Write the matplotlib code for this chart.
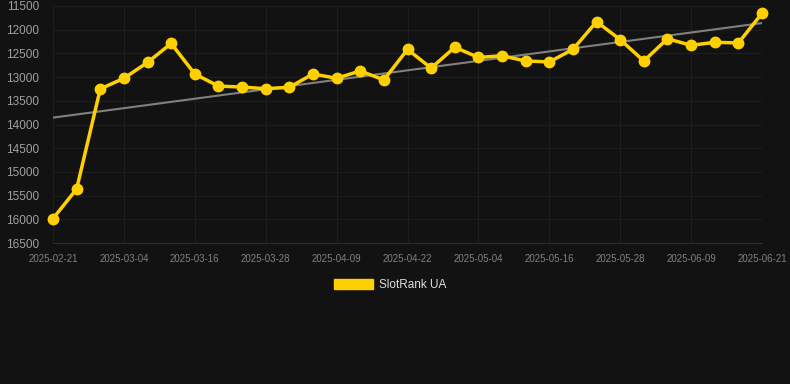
import matplotlib
matplotlib.use("Agg")
from matplotlib import pyplot as plt
from matplotlib.patches import Patch

# dates for every point (only every third one is labelled on the axis)
dates = ["2025-02-21", "2025-02-25", "2025-03-01", "2025-03-04", "2025-03-08",
         "2025-03-12", "2025-03-16", "2025-03-20", "2025-03-24", "2025-03-28",
         "2025-04-01", "2025-04-05", "2025-04-09", "2025-04-13", "2025-04-17",
         "2025-04-22", "2025-04-26", "2025-04-30", "2025-05-04", "2025-05-08",
         "2025-05-12", "2025-05-16", "2025-05-20", "2025-05-24", "2025-05-28",
         "2025-06-01", "2025-06-05", "2025-06-09", "2025-06-13", "2025-06-17",
         "2025-06-21"]
rank = [15985, 15360, 13250, 13025, 12690, 12290, 12935, 13190, 13210, 13245,
        13215, 12935, 13025, 12870, 13060, 12415, 12810, 12370, 12585, 12550,
        12660, 12680, 12415, 11830, 12210, 12660, 12190, 12330, 12265, 12280,
        11655]
trend = [13855, 11860]  # start / end of the trend line
yticks = [11500, 12000, 12500, 13000, 13500, 14000, 14500, 15000, 15500, 16000, 16500]

bg = "#121212"
gold = "#FFD000"

plt.rcParams["font.family"] = ["Liberation Sans", "DejaVu Sans"]

fig = plt.figure(figsize=(7.9, 3.84), dpi=100, facecolor=bg)
ax = fig.add_axes([53 / 790, 141 / 384, 709 / 790, 237 / 384], facecolor=bg)

x = list(range(len(rank)))
ax.plot([0, len(rank) - 1], trend, color="#808080", lw=1.5, zorder=2)
ax.plot(x, rank, color=gold, lw=2.5, marker="o", ms=7.5, zorder=3, clip_on=False)

ax.set_xlim(0, len(rank) - 1)
ax.set_ylim(16500, 11500)
ax.set_yticks(yticks)
ax.set_xticks(x[::3])
ax.set_xticklabels(dates[::3])

ax.grid(True, color="#1e1e1e", lw=0.8)
for s in ["top", "right", "left"]:
    ax.spines[s].set_visible(False)
ax.spines["bottom"].set_color("#2c2c2c")
ax.tick_params(axis="y", length=0, pad=10, labelsize=8.5, labelcolor="#a0a0a0")
ax.tick_params(axis="x", length=0, pad=8, labelsize=7, labelcolor="#808080")

fig.legend(handles=[Patch(facecolor=gold, edgecolor=gold, label="SlotRank UA")],
           loc="center", bbox_to_anchor=(390 / 790, 1 - 285 / 384),
           frameon=False, fontsize=8.5, labelcolor="#dddddd",
           handlelength=3.3, handleheight=1.0, handletextpad=0.5)

plt.savefig("out.png", dpi=100, facecolor=bg)
